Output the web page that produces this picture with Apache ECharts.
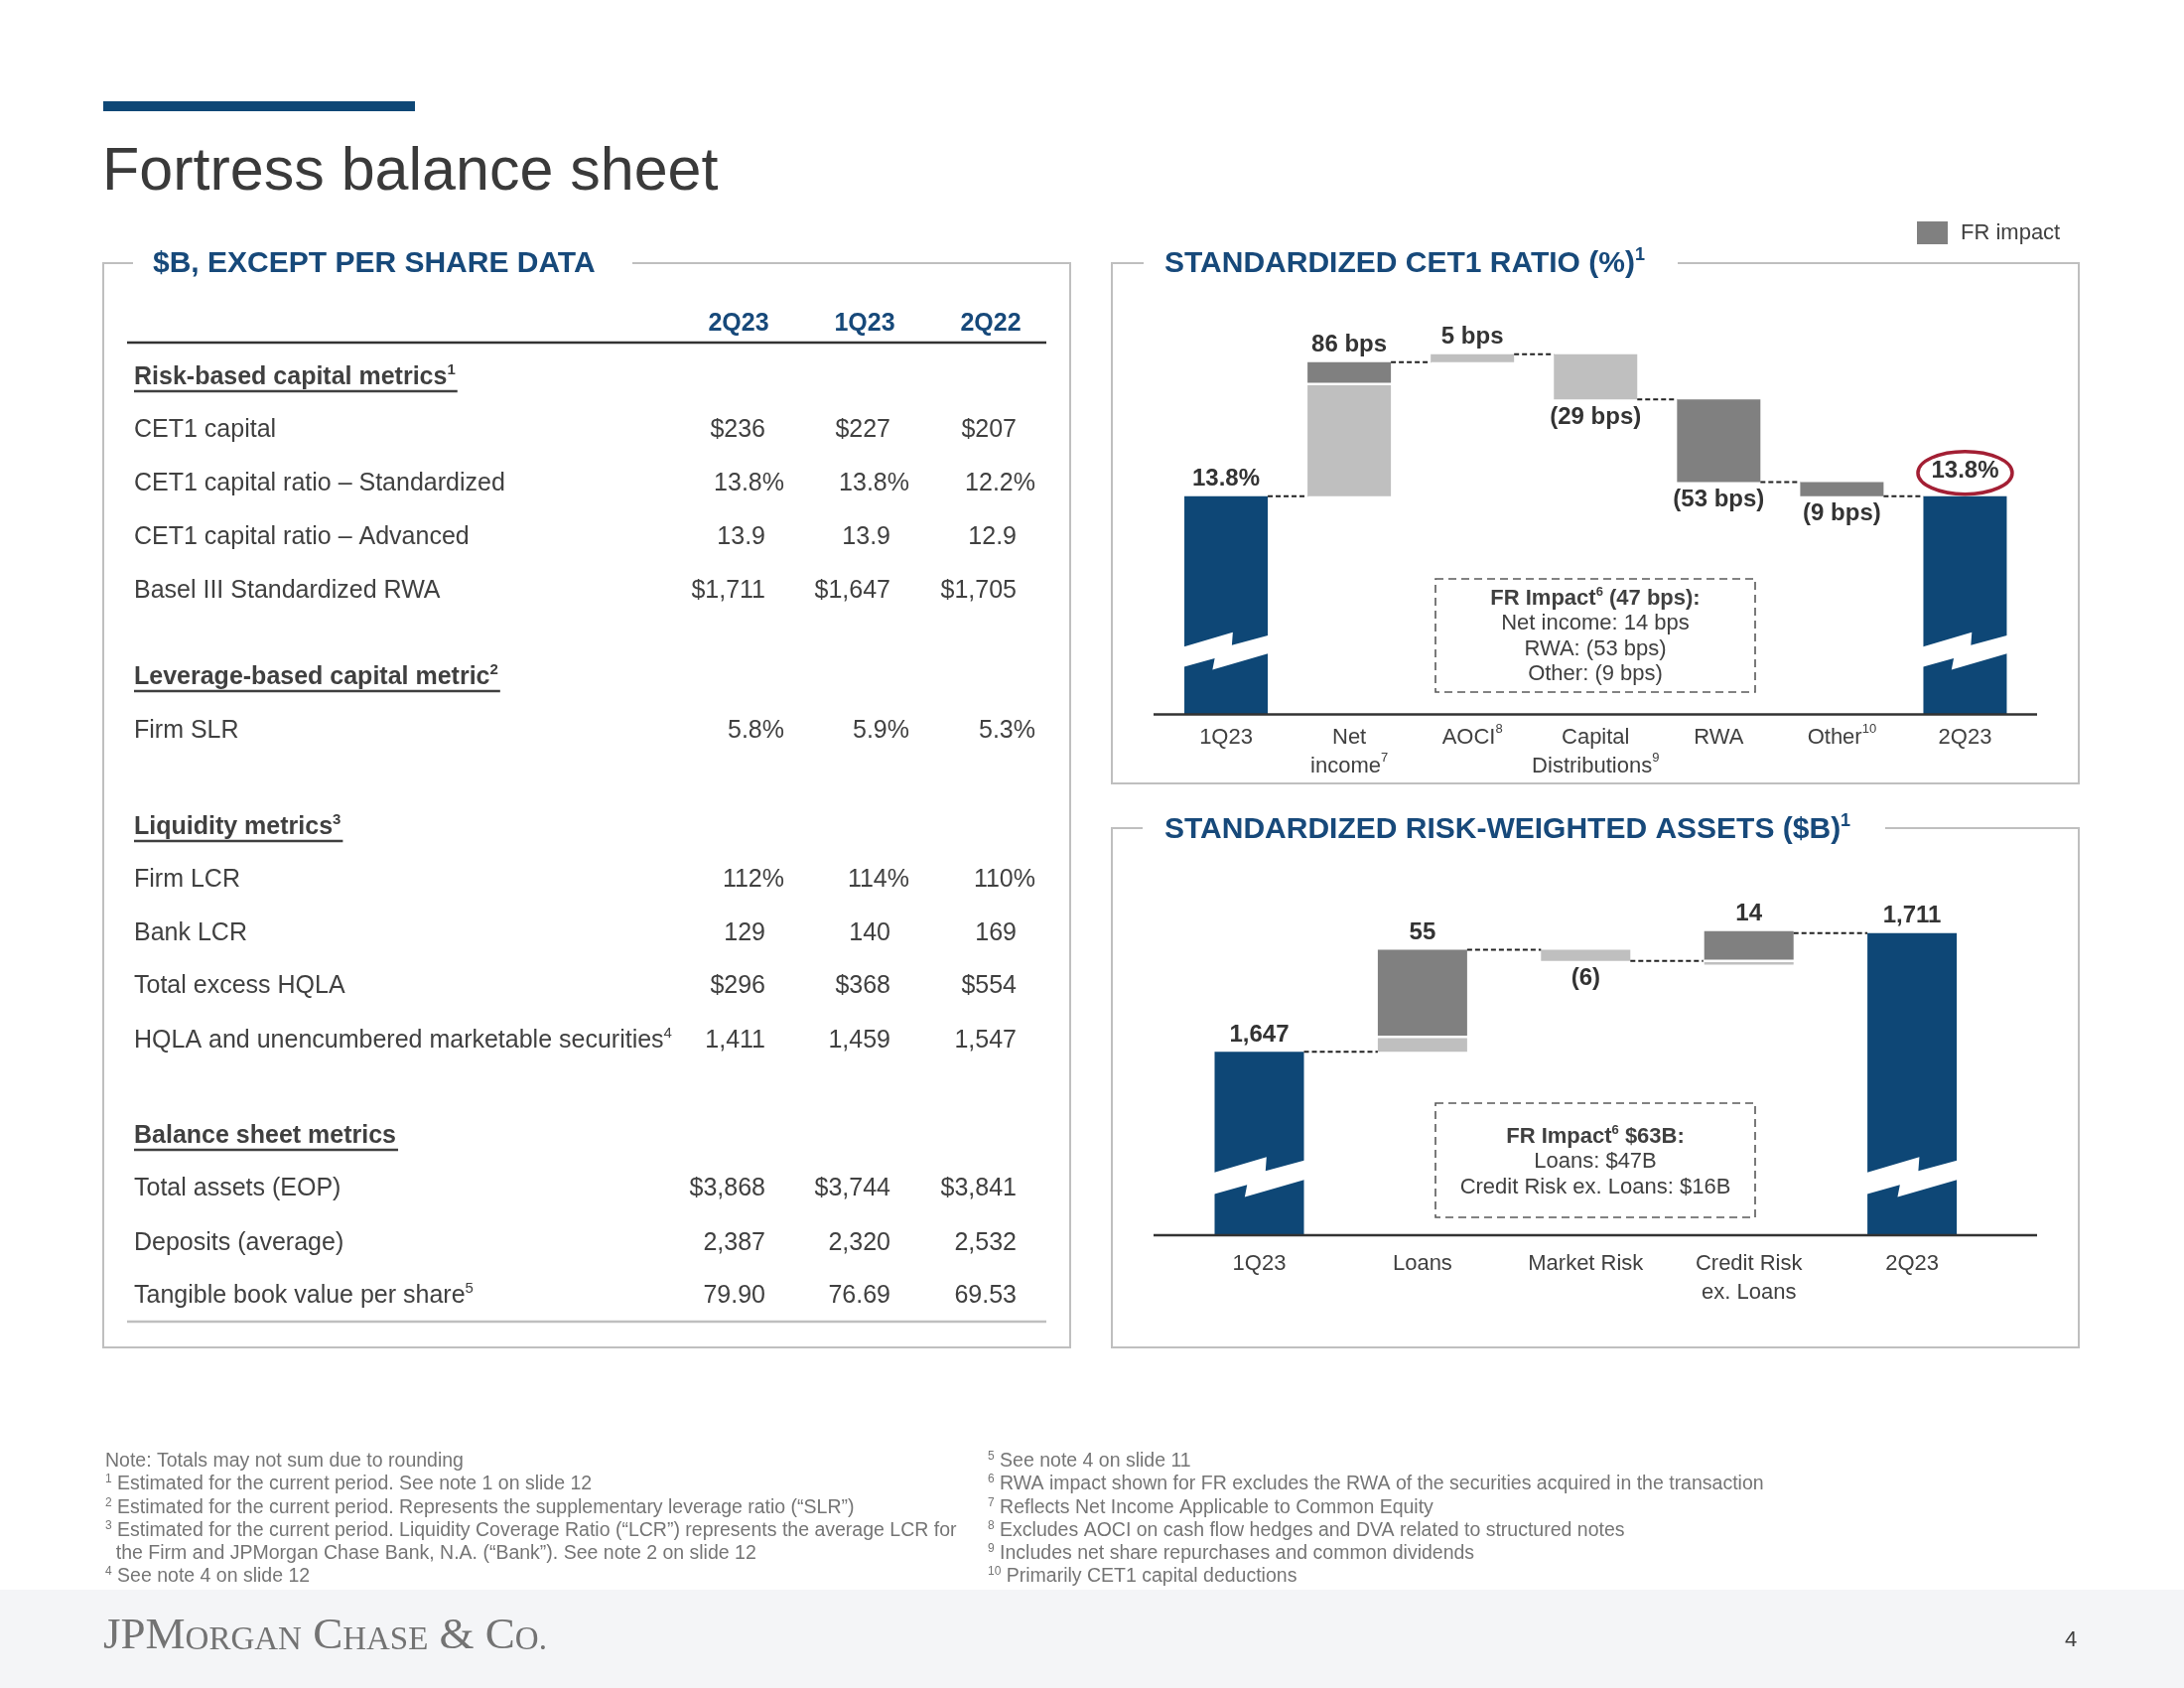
<!DOCTYPE html>
<html>
<head>
<meta charset="utf-8">
<script src="https://cdn.jsdelivr.net/npm/echarts@6/dist/echarts.min.js"></script>
<style>
html,body{margin:0;padding:0;background:#fff;}
#main{width:2200px;height:1700px;}
</style>
</head>
<body>
<div id="main"></div>
<script>
// ------------------------------------------------------------------ data
const slideTitle = 'Fortress balance sheet';
const tableTitle = '$B, EXCEPT PER SHARE DATA';
const cetTitle = 'STANDARDIZED CET1 RATIO (%)¹';
const rwaTitle = 'STANDARDIZED RISK-WEIGHTED ASSETS ($B)¹';
const legendName = 'FR impact';

const tableColumns = ['2Q23', '1Q23', '2Q22'];
const sectionTitles = ['Risk-based capital metrics¹', 'Leverage-based capital metric²', 'Liquidity metrics³', 'Balance sheet metrics'];
const rowLabels = [
  'Risk-based capital metrics¹',
  'CET1 capital',
  'CET1 capital ratio – Standardized',
  'CET1 capital ratio – Advanced',
  'Basel III Standardized RWA',
  'Leverage-based capital metric²',
  'Firm SLR',
  'Liquidity metrics³',
  'Firm LCR',
  'Bank LCR',
  'Total excess HQLA',
  'HQLA and unencumbered marketable securities⁴',
  'Balance sheet metrics',
  'Total assets (EOP)',
  'Deposits (average)',
  'Tangible book value per share⁵'
];
const values2Q23 = ['', '$236', '13.8%', '13.9', '$1,711', '', '5.8%', '', '112%', '129', '$296', '1,411', '', '$3,868', '2,387', '79.90'];
const values1Q23 = ['', '$227', '13.8%', '13.9', '$1,647', '', '5.9%', '', '114%', '140', '$368', '1,459', '', '$3,744', '2,320', '76.69'];
const values2Q22 = ['', '$207', '12.2%', '12.9', '$1,705', '', '5.3%', '', '110%', '169', '$554', '1,547', '', '$3,841', '2,532', '69.53'];

// CET1 ratio walk (% points)
const cetCategories = ['1Q23', 'Net\nincome⁷', 'AOCI⁸', 'Capital\nDistributions⁹', 'RWA', 'Other¹⁰', '2Q23'];
const cetStart = 13.8;
const cetEnd = 13.8;
const cetOrganic  = [0, 0.72, 0.05, -0.29, 0, 0, 0];
const cetFRImpact = [0, 0.14, 0, 0, -0.53, -0.09, 0];

// RWA walk ($B)
const rwaCategories = ['1Q23', 'Loans', 'Market Risk', 'Credit Risk\nex. Loans', '2Q23'];
const rwaStart = 1647;
const rwaEnd = 1711;
const rwaOrganic  = [0, 8, -6, -2, 0];
const rwaFRImpact = [0, 47, 0, 16, 0];

const cetFRNote = ['FR Impact⁶ (47 bps):', 'Net income: 14 bps', 'RWA: (53 bps)', 'Other: (9 bps)'];
const rwaFRNote = ['FR Impact⁶ $63B:', 'Loans: $47B', 'Credit Risk ex. Loans: $16B'];

const footnotesLeft = [
  'Note: Totals may not sum due to rounding',
  '¹ Estimated for the current period. See note 1 on slide 12',
  '² Estimated for the current period. Represents the supplementary leverage ratio (“SLR”)',
  '³ Estimated for the current period. Liquidity Coverage Ratio (“LCR”) represents the average LCR for',
  '  the Firm and JPMorgan Chase Bank, N.A. (“Bank”). See note 2 on slide 12',
  '⁴ See note 4 on slide 12'
];
const footnotesRight = [
  '⁵ See note 4 on slide 11',
  '⁶ RWA impact shown for FR excludes the RWA of the securities acquired in the transaction',
  '⁷ Reflects Net Income Applicable to Common Equity',
  '⁸ Excludes AOCI on cash flow hedges and DVA related to structured notes',
  '⁹ Includes net share repurchases and common dividends',
  '¹⁰ Primarily CET1 capital deductions'
];
const pageNumber = '4';

// ------------------------------------------------------------------ style
const FONT = '"Liberation Sans", Arial, Helvetica, sans-serif';
const SERIF = '"Liberation Serif", "Times New Roman", serif';
const BLUE = '#0E4776';
const HEAD_BLUE = '#17497A';
const LIGHT = '#BFBFBF';
const DARK = '#808080';
const TEXT = '#404040';
const FRAME = '#BFBFBF';

const mctx = document.createElement('canvas').getContext('2d');
function measure(t, font) { mctx.font = font; return mctx.measureText(t).width; }

// superscript handling: unicode superscripts -> rich-text tokens
const SUP_MAP = { '⁰': '0', '¹': '1', '²': '2', '³': '3', '⁴': '4', '⁵': '5', '⁶': '6', '⁷': '7', '⁸': '8', '⁹': '9' };
function splitSup(line) {
  const parts = [];
  let buf = '', sup = '';
  for (const ch of line) {
    if (SUP_MAP[ch] !== undefined) {
      if (buf) { parts.push({ t: buf, sup: false }); buf = ''; }
      sup += SUP_MAP[ch];
    } else {
      if (sup) { parts.push({ t: sup, sup: true }); sup = ''; }
      buf += ch;
    }
  }
  if (buf) parts.push({ t: buf, sup: false });
  if (sup) parts.push({ t: sup, sup: true });
  return parts;
}
function toRich(s) {
  return s.split('\n').map(function (line) {
    return splitSup(line).map(function (p) { return '{' + (p.sup ? 's' : 'n') + '|' + p.t + '}'; }).join('');
  }).join('\n');
}
function richWidth(s, weight, size, supSize) {
  return splitSup(s).reduce(function (w, p) {
    return w + measure(p.t, weight + ' ' + (p.sup ? supSize : size) + 'px ' + FONT);
  }, 0);
}

function txt(text, x, y, o) {
  o = o || {};
  const align = o.align || 'left';
  const valign = o.valign || 'middle';
  const size = o.size || 25;
  const weight = o.weight || 'normal';
  const color = o.color || TEXT;
  const lh = Math.round(size * 1.2);
  const supSize = Math.round(size * 0.6);
  return {
    type: 'text', x: x, y: y, silent: true, z: o.z || 10,
    style: {
      text: toRich(text),
      fill: color,
      font: weight + ' ' + size + 'px ' + (o.family || FONT),
      align: align, verticalAlign: valign,
      textAlign: align, textVerticalAlign: valign,
      rich: {
        n: { font: weight + ' ' + size + 'px ' + (o.family || FONT), fill: color, lineHeight: lh },
        s: { font: weight + ' ' + supSize + 'px ' + (o.family || FONT), fill: color, verticalAlign: 'top', lineHeight: supSize + 1 }
      }
    }
  };
}
function hline(x1, y, x2, color, w, dash) {
  return { type: 'line', silent: true, z: 5,
    shape: { x1: x1, y1: y, x2: x2, y2: y },
    style: { stroke: color, lineWidth: w, lineDash: dash || null } };
}

// ------------------------------------------------------------------ waterfall model
function makeWaterfall(start, end, organic, fr) {
  const n = organic.length;
  const base = [], light = [], dark = [], total = [], top = [], bottom = [], net = [], junction = [], connect = [];
  let level = start;
  for (let i = 0; i < n; i++) {
    if (i === 0 || i === n - 1) {
      const v = i === 0 ? start : end;
      base.push(0); light.push(0); dark.push(0); total.push(v);
      top.push(v); bottom.push(null); net.push(v); junction.push(null);
      connect.push(i === 0 ? start : null);
      continue;
    }
    const o = organic[i], f = fr[i];
    let b;
    if (o >= 0 && f >= 0) b = level;
    else if (o <= 0 && f <= 0) b = level + o + f;
    else if (o < 0) b = level + o;
    else b = level + f;
    base.push(b); light.push(Math.abs(o)); dark.push(Math.abs(f)); total.push(0);
    top.push(b + Math.abs(o) + Math.abs(f)); bottom.push(b); net.push(o + f);
    junction.push(o !== 0 && f !== 0 ? b + Math.abs(o) : null);
    level += o + f;
    connect.push(i === n - 2 ? end : level);
  }
  return { n, base, light, dark, total, top, bottom, net, junction, connect };
}

const cetWF = makeWaterfall(cetStart, cetEnd, cetOrganic, cetFRImpact);
const rwaWF = makeWaterfall(rwaStart, rwaEnd, rwaOrganic, rwaFRImpact);

function cetLabel(i) {
  const wf = cetWF;
  if (i === 0 || i === wf.n - 1) return wf.total[i].toFixed(1) + '%';
  const bps = Math.round(wf.net[i] * 100);
  return bps >= 0 ? bps + ' bps' : '(' + (-bps) + ' bps)';
}
function rwaLabel(i) {
  const wf = rwaWF;
  if (i === 0 || i === wf.n - 1) return wf.total[i].toLocaleString('en-US');
  const v = Math.round(wf.net[i]);
  return v >= 0 ? String(v) : '(' + (-v) + ')';
}

const BOLT = [[0, 0], [50, -15], [49, -1.7], [86, -12], [86, 6.7], [29, 23.5], [31.3, 11.7], [0, 20.7]];

function decoRenderer(wf, cfg) {
  return function (params, api) {
    const i = params.dataIndex;
    const half = cfg.barW / 2;
    const p0 = api.coord([i, cfg.yMin]);
    const cx = p0[0], yBase = p0[1];
    const Y = function (v) { return api.coord([i, v])[1]; };
    const kids = [];
    if (i < wf.n - 1) {
      const y = Y(wf.connect[i]);
      const nx = api.coord([i + 1, cfg.yMin])[0];
      kids.push({ type: 'line', shape: { x1: cx + half, y1: y, x2: nx - half, y2: y },
        style: { stroke: '#222', lineWidth: 2, lineDash: [5, 3] } });
    }
    if (wf.junction[i] != null) {
      const y = Y(wf.junction[i]);
      kids.push({ type: 'line', shape: { x1: cx - half - 1, y1: y, x2: cx + half + 1, y2: y },
        style: { stroke: '#fff', lineWidth: 2.5 } });
    }
    const isTotal = (i === 0 || i === wf.n - 1);
    let ly;
    if (isTotal || wf.net[i] >= 0) ly = Y(wf.top[i]) - ((i === wf.n - 1 && cfg.ring) ? 25 : 17);
    else ly = Y(wf.bottom[i]) + 18;
    const label = cfg.fmt(i);
    kids.push({ type: 'text', x: cx, y: ly,
      style: { text: label, fill: '#333', font: 'bold 24px ' + FONT,
        align: 'center', verticalAlign: 'middle', textAlign: 'center', textVerticalAlign: 'middle' } });
    if (isTotal) {
      const s = cfg.barW / 86;
      const x0 = cx - half, y0 = yBase - cfg.boltY;
      const pts = BOLT.map(function (p) {
        let px = x0 + p[0] * s;
        if (p[0] === 0) px -= 1;
        if (p[0] === 86) px += 1;
        return [px, y0 + p[1] * s];
      });
      kids.push({ type: 'polygon', shape: { points: pts }, style: { fill: '#fff' } });
    }
    if (i === wf.n - 1 && cfg.ring) {
      kids.push({ type: 'ellipse', shape: { cx: cx, cy: ly + 1.5, rx: 47.5, ry: 21.5 },
        style: { fill: null, stroke: '#A31F34', lineWidth: 3.5 } });
    }
    return { type: 'group', children: kids };
  };
}

function wfSeries(k, wf, cfg) {
  const common = { type: 'bar', xAxisIndex: k, yAxisIndex: k, stack: 'wf' + k, barWidth: cfg.barW,
    silent: true, animation: false, emphasis: { disabled: true } };
  return [
    Object.assign({}, common, { name: 'base', data: wf.base, itemStyle: { color: 'rgba(0,0,0,0)' } }),
    Object.assign({}, common, { name: 'Organic', data: wf.light, itemStyle: { color: LIGHT } }),
    Object.assign({}, common, { name: legendName, data: wf.dark, itemStyle: { color: DARK } }),
    Object.assign({}, common, { name: 'Total', data: wf.total, itemStyle: { color: BLUE } }),
    { type: 'custom', xAxisIndex: k, yAxisIndex: k, silent: true, animation: false, z: 4,
      data: wf.total.map(function (_, i) { return [i, wf.top[i]]; }),
      renderItem: decoRenderer(wf, cfg) }
  ];
}

const cetCfg = { barW: 84, yMin: 12.4, fmt: cetLabel, boltY: 68, ring: true };
const rwaCfg = { barW: 90, yMin: 1548, fmt: rwaLabel, boltY: 63, ring: false };

// ------------------------------------------------------------------ graphics (slide furniture)
const g = [];
g.push({ type: 'rect', silent: true, z: 0, shape: { x: 0, y: 1601, width: 2200, height: 99 }, style: { fill: '#F4F5F7' } });
g.push({ type: 'rect', silent: true, z: 1, shape: { x: 104, y: 102, width: 314, height: 10 }, style: { fill: BLUE } });
g.push(txt(slideTitle, 103, 174, { size: 61, color: '#3a3a3a' }));

function frame(pts) {
  return { type: 'polyline', silent: true, z: 1, shape: { points: pts }, style: { stroke: FRAME, lineWidth: 2, fill: null } };
}
g.push(frame([[134, 265], [104, 265], [104, 1357], [1078, 1357], [1078, 265], [637, 265]]));
g.push(frame([[1152, 265], [1120, 265], [1120, 789], [2094, 789], [2094, 265], [1690, 265]]));
g.push(frame([[1151, 834], [1120, 834], [1120, 1357], [2094, 1357], [2094, 834], [1899, 834]]));
g.push(txt(tableTitle, 154, 266, { size: 30, weight: 'bold', color: HEAD_BLUE }));
g.push(txt(cetTitle, 1173, 266, { size: 30, weight: 'bold', color: HEAD_BLUE }));
g.push(txt(rwaTitle, 1173, 836, { size: 30, weight: 'bold', color: HEAD_BLUE }));

// table
const colRight = [771, 897, 1024];
const colCenter = [744, 871, 998];
const rowY = [380, 433, 487, 541, 595, 682, 736, 833, 886, 940, 993, 1048, 1144, 1197, 1252, 1305];
tableColumns.forEach(function (c, k) {
  g.push(txt(c, colCenter[k], 326, { align: 'center', weight: 'bold', color: HEAD_BLUE }));
});
g.push(hline(128, 345, 1054, '#333', 2.5));
const tableCols = [values2Q23, values1Q23, values2Q22];
rowLabels.forEach(function (lab, r) {
  const y = rowY[r];
  if (sectionTitles.indexOf(lab) >= 0) {
    g.push(txt(lab, 135, y, { weight: 'bold' }));
    const w = richWidth(lab, 'bold', 25, 15);
    g.push(hline(135, y + 14, 135 + w + 2, '#404040', 2.5));
  } else {
    g.push(txt(lab, 135, y, {}));
    tableCols.forEach(function (col, k) {
      const v = col[r];
      if (!v) return;
      const x = colRight[k] + (v.charAt(v.length - 1) === '%' ? 19 : 0);
      g.push(txt(v, x, y, { align: 'right' }));
    });
  }
});
g.push(hline(128, 1331, 1054, FRAME, 2.5));

// chart baselines
g.push(hline(1162, 719.5, 2052, '#333', 2.5));
g.push(hline(1162, 1244, 2052, '#333', 2.5));

// FR impact note boxes
function noteBox(x, y, w, h, lines, firstY, step) {
  g.push({ type: 'rect', silent: true, z: 3, shape: { x: x, y: y, width: w, height: h },
    style: { fill: null, stroke: '#595959', lineWidth: 1.6, lineDash: [8, 5] } });
  lines.forEach(function (t, k) {
    g.push(txt(t, x + w / 2, firstY + k * step, { align: 'center', size: 22, weight: k === 0 ? 'bold' : 'normal' }));
  });
}
noteBox(1446, 583, 322, 114, cetFRNote, 603, 25.3);
noteBox(1446, 1111, 322, 115, rwaFRNote, 1145, 25.3);

// footnotes
const fnY = [1472, 1495, 1519, 1542, 1565, 1588];
footnotesLeft.forEach(function (t, k) { g.push(txt(t, 106, fnY[k], { size: 19.5, color: '#757575' })); });
footnotesRight.forEach(function (t, k) { g.push(txt(t, 995, fnY[k], { size: 19.5, color: '#757575' })); });

// footer logo + page number
g.push({ type: 'text', x: 104, y: 1648, silent: true, z: 10,
  style: {
    text: '{b|JPM}{s|ORGAN}{b| C}{s|HASE}{b| & C}{s|O.}',
    align: 'left', verticalAlign: 'middle', textAlign: 'left', textVerticalAlign: 'middle',
    fill: '#737373',
    rich: {
      b: { font: 'normal 45px ' + SERIF, fill: '#737373', lineHeight: 45, verticalAlign: 'bottom' },
      s: { font: 'normal 33px ' + SERIF, fill: '#737373', lineHeight: 33, verticalAlign: 'bottom', padding: [0, 0, 2, 0] }
    }
  }
});
g.push(txt(pageNumber, 2086, 1652, { size: 22, align: 'center', color: '#404040' }));

// ------------------------------------------------------------------ option
function axisLabelCfg(margin) {
  return {
    interval: 0, margin: margin, color: TEXT, fontSize: 22, fontFamily: FONT, lineHeight: 29,
    formatter: function (v) { return toRich(v); },
    rich: {
      n: { fontSize: 22, fontFamily: FONT, color: TEXT, lineHeight: 29 },
      s: { fontSize: 13, fontFamily: FONT, color: TEXT, lineHeight: 14, verticalAlign: 'top' }
    }
  };
}
const option = {
  backgroundColor: '#ffffff',
  animation: false,
  legend: {
    data: [{ name: legendName, icon: 'rect' }],
    left: 1931, top: 223, padding: 0, itemWidth: 31, itemHeight: 23, selectedMode: false,
    textStyle: { fontSize: 22, color: TEXT, fontFamily: FONT, padding: [0, 0, 0, 8] }
  },
  grid: [
    { left: 1173, top: 327, width: 868.5, height: 392.5 },
    { left: 1186.3, top: 908, width: 822, height: 336 }
  ],
  xAxis: [
    { type: 'category', gridIndex: 0, data: cetCategories, axisLine: { show: false }, axisTick: { show: false },
      splitLine: { show: false }, axisLabel: axisLabelCfg(8.5) },
    { type: 'category', gridIndex: 1, data: rwaCategories, axisLine: { show: false }, axisTick: { show: false },
      splitLine: { show: false }, axisLabel: axisLabelCfg(14.5) }
  ],
  yAxis: [
    { type: 'value', gridIndex: 0, min: 12.4, max: 14.9, show: false, splitLine: { show: false } },
    { type: 'value', gridIndex: 1, min: 1548, max: 1728, show: false, splitLine: { show: false } }
  ],
  series: [].concat(wfSeries(0, cetWF, cetCfg), wfSeries(1, rwaWF, rwaCfg)),
  graphic: { elements: g }
};

const chart = echarts.init(document.getElementById('main'), null, { renderer: 'canvas', width: 2200, height: 1700 });
chart.setOption(option);
</script>
</body>
</html>
